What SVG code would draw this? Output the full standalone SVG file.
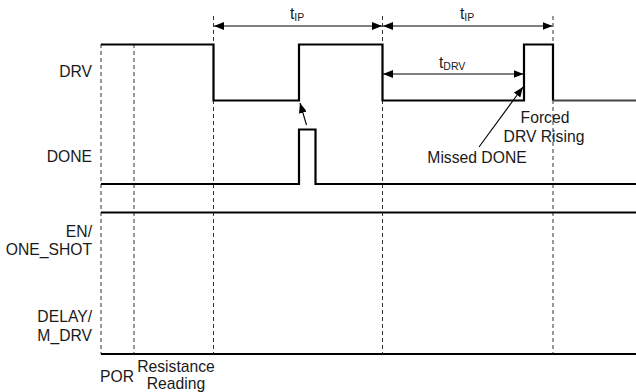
<svg xmlns="http://www.w3.org/2000/svg" width="636" height="392" viewBox="0 0 636 392">
<style>
text{font-family:"Liberation Sans",Arial,sans-serif;font-size:15.7px;fill:#1a1a1a}
.sub{font-size:10.5px}
.sig{fill:none;stroke:#000;stroke-width:2.2}
.dash{fill:none;stroke:#333;stroke-width:1;stroke-dasharray:4,3}
.dim{fill:none;stroke:#000;stroke-width:1.1}
</style>
<defs>
<marker id="ah" viewBox="0 0 10 8" refX="10" refY="4" markerWidth="10" markerHeight="8" markerUnits="userSpaceOnUse" orient="auto-start-reverse">
<path d="M0,0 L10,4 L0,8 z" fill="#000"/>
</marker>
</defs>
<g id="gridlines">
<line class="dash" x1="101" y1="44" x2="101" y2="354"/>
<line class="dash" x1="134" y1="44" x2="134" y2="354"/>
<line class="dash" x1="213.5" y1="16" x2="213.5" y2="354"/>
<line class="dash" x1="382.5" y1="16" x2="382.5" y2="354"/>
<line class="dash" x1="553" y1="16" x2="553" y2="354"/>
</g>
<g id="labels">
<text x="92" y="77" text-anchor="end">DRV</text>
<text x="92" y="162" text-anchor="end">DONE</text>
<text x="92" y="237" text-anchor="end">EN/</text>
<text x="92" y="255" text-anchor="end">ONE_SHOT</text>
<text x="92" y="322" text-anchor="end">DELAY/</text>
<text x="92" y="341" text-anchor="end">M_DRV</text>
<text x="100" y="382">POR</text>
<text x="176" y="372" text-anchor="middle">Resistance</text>
<text x="176" y="389" text-anchor="middle">Reading</text>
</g>
<g id="DRV">
<polyline class="sig" points="101,44.5 213.5,44.5 213.5,100.5 299,100.5 299,44.5 382.5,44.5 382.5,100.5 524,100.5 524,44.5 553,44.5 553,100.5"/>
<line x1="553" y1="100.5" x2="636" y2="100.5" stroke="#444" stroke-width="2.2"/>
</g>
<g id="DONE">
<polyline class="sig" points="101,184 299,184 299,129.5 315.5,129.5 315.5,184 636,184"/>
</g>
<g id="EN">
<line class="sig" x1="101" y1="212.5" x2="636" y2="212.5"/>
</g>
<g id="DELAY">
<line class="sig" x1="101" y1="354" x2="636" y2="354" stroke-width="2.6"/>
</g>
<g id="connectors">
<line class="dim" x1="214" y1="26" x2="382" y2="26" marker-start="url(#ah)" marker-end="url(#ah)"/>
<line class="dim" x1="383" y1="26" x2="552.5" y2="26" marker-start="url(#ah)" marker-end="url(#ah)"/>
<line class="dim" x1="383" y1="74" x2="523.5" y2="74" marker-start="url(#ah)" marker-end="url(#ah)"/>
<line class="dim" x1="306.5" y1="125" x2="300" y2="103" marker-end="url(#ah)"/>
<line class="dim" x1="479" y1="147" x2="523" y2="87" marker-end="url(#ah)"/>
</g>
<g id="dimlabels">
<text x="290" y="19">t<tspan class="sub" dy="2">IP</tspan></text>
<text x="460" y="19">t<tspan class="sub" dy="2">IP</tspan></text>
<text x="439" y="68">t<tspan class="sub" dy="2">DRV</tspan></text>
<text x="545" y="123" text-anchor="middle">Forced</text>
<text x="544" y="142" text-anchor="middle">DRV Rising</text>
<text x="477" y="163" text-anchor="middle">Missed DONE</text>
</g>
</svg>
